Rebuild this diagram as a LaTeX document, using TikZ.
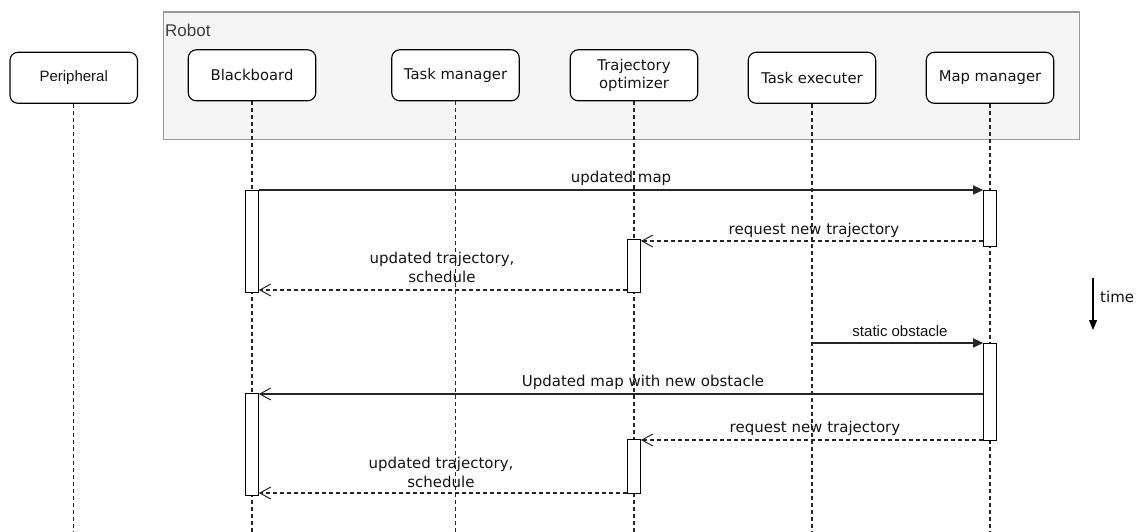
\documentclass[tikz,border=0pt]{standalone}
\usepackage{fontspec}
\setmainfont{DejaVu Sans}
\newfontfamily\arialfont{Liberation Sans}
\usetikzlibrary{arrows.meta}

\begin{document}
\begin{tikzpicture}[x=1pt,y=-1pt,
  actor/.style={draw=black, rounded corners=8pt, fill=white, line width=1.1pt,
    minimum width=127.5pt, minimum height=51pt, inner sep=0pt, align=center,
    font=\fontsize{14.8}{18.5}\selectfont, text=black!92},
  lifeline/.style={draw=black!85, line width=1.1pt, dash pattern=on 4pt off 3pt},
  bar/.style={draw=black, fill=white, line width=1.1pt, minimum width=12.5pt, inner sep=0pt, anchor=north},
  sync/.style={draw=black!85, line width=1.1pt, -{Triangle[length=10pt,width=9pt]}},
  openmsg/.style={draw=black!85, line width=1.1pt, -{Straight Barb[length=11pt,width=12pt,line width=1pt]}},
  reply/.style={openmsg, dash pattern=on 4pt off 3pt},
  msg/.style={inner sep=0pt, align=center, font=\fontsize{15}{19}\selectfont, text=black!92},
]
\useasboundingbox (0,0) rectangle (1139,532);

% robot container
\node[draw=black!40, fill=black!4, line width=1.1pt, minimum width=916pt, minimum height=127pt,
      inner sep=0pt, anchor=north west] (robot) at (163,11.5) {};
\node[anchor=base west, inner sep=0pt, font=\arialfont\fontsize{17}{20}\selectfont, text=black!75]
      (robotlabel) at (165,36.7) {Robot};

% participants
\node[actor, font=\arialfont\fontsize{15}{18}\selectfont] (per) at (73.7,77.8) {Peripheral};
\node[actor] (bb) at (252,75.3) {Blackboard};
\node[actor] (tm) at (455.5,75.3) {Task manager};
\node[actor] (to) at (634,75.3) {Trajectory\\optimizer};
\node[actor] (te) at (812,77.8) {Task executer};
\node[actor] (mm) at (990,77.8) {Map manager};

% lifelines
\foreach \p in {per,bb,tm,to,te,mm}
  \draw[lifeline] (\p.south) -- (\p.south |- 0,532);

% activation bars
\node[bar, minimum height=102pt] (bb1) at (bb.south |- 0,190) {};
\node[bar, minimum height=56pt]  (mm1) at (mm.south |- 0,190) {};
\node[bar, minimum height=53pt]  (to1) at (to.south |- 0,239) {};
\node[bar, minimum height=97pt]  (mm2) at (mm.south |- 0,343) {};
\node[bar, minimum height=102pt] (bb2) at (bb.south |- 0,393) {};
\node[bar, minimum height=54pt]  (to2) at (to.south |- 0,439) {};

% messages
\draw[sync] (bb1.north east) -- (mm1.north west);
\node[msg] (l1) at (621,178) {updated map};

\draw[reply] (mm1.west |- 0,241) -- (to1.east |- 0,241);
\node[msg] (l2) at (814,230.5) {request new trajectory};

\draw[reply] (to1.west |- 0,290) -- (bb1.east |- 0,290);
\node[msg] (l3) at (442,267.5) {updated trajectory,\\schedule};

\coordinate (tes) at (te.south |- mm2.north);
\draw[sync] (tes) -- (mm2.north west);
\node[msg, font=\arialfont\fontsize{15}{18}\selectfont] (l4) at (900,331) {static obstacle};

\draw[openmsg] (mm2.west |- 0,394) -- (bb2.east |- 0,394);
\node[msg] (l5) at (643,382) {Updated map with new obstacle};

\draw[reply] (mm2.west |- 0,440) -- (to2.east |- 0,440);
\node[msg] (l6) at (815,428) {request new trajectory};

\draw[reply] (to2.west |- 0,493) -- (bb2.east |- 0,493);
\node[msg] (l7) at (441,472.5) {updated trajectory,\\schedule};

% time axis
\coordinate (t0) at (1093,278);
\coordinate (t1) at (1093,330);
\draw[line width=1.1pt, -{Triangle[length=10pt,width=8pt]}] (t0) -- (t1);
\node[msg, anchor=west] (tl) at (1100,297) {time};
\end{tikzpicture}
\end{document}
